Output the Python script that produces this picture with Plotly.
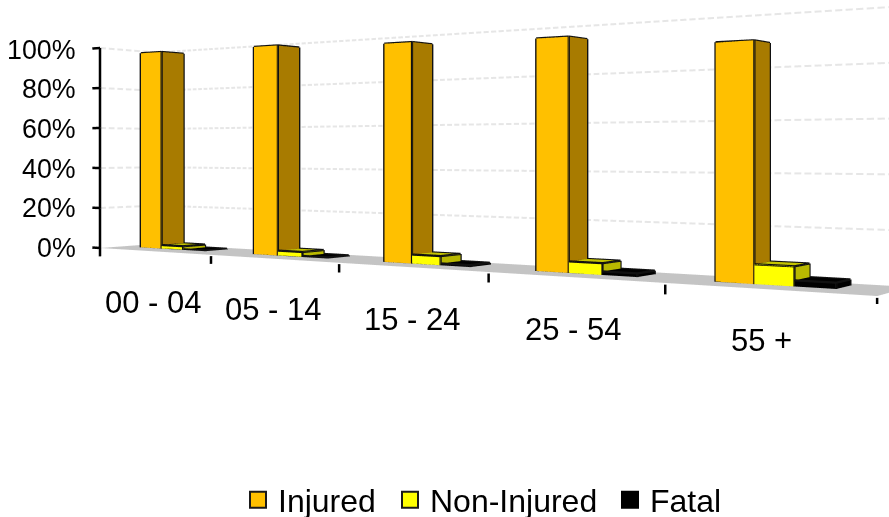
import numpy as np
import plotly.graph_objects as go

categories = ["00 - 04", "05 - 14", "15 - 24", "25 - 54", "55 +"]
series_names = ["Injured", "Non-Injured", "Fatal"]
injured = [97.7, 97.4, 95.3, 93.8, 88.6]
non_injured = [1.8, 2.3, 3.9, 4.6, 7.2]
fatal = [0.3, 0.5, 0.8, 1.4, 2.2]
y_ticks = [0, 20, 40, 60, 80, 100]
y_tick_labels = ["0%", "20%", "40%", "60%", "80%", "100%"]

W, H = 889, 517
SCENE_H = 304

# geometry of the oblique view
SKEW = 6.735          # x shift per unit of depth (bars lean toward the right vanishing point)
FLOOR_D = 0.045
BAR_D = (0.018, 0.036)
BAR_START, BAR_W = 0.17, 0.195

S1 = np.array([0.3449, -0.0667])
LEN1 = np.hypot(*S1)
E1 = S1 / LEN1
N1 = np.array([-E1[1], E1[0]])
S2 = np.array([2.603, 1.0])
DEPTH_N = S2 @ N1
Z_LEN = 0.545 / 100

XR = [-0.5, 5.5]
YR = [-0.01, 0.06]
ZR = [-10, 110]
asp = dict(x=(XR[1] - XR[0]) * LEN1, y=(YR[1] - YR[0]) * DEPTH_N, z=(ZR[1] - ZR[0]) * Z_LEN)


def nrm(v, r, a):
    return a * (v - (r[0] + r[1]) / 2) / (r[1] - r[0])


p0_to_eye = -np.array([-0.9386, 1.0])
eye_x = p0_to_eye @ E1 + nrm(0, XR, asp["x"])
eye_y = p0_to_eye @ N1 + nrm(0, YR, asp["y"])
eye_z = nrm(48, ZR, asp["z"])
fwd = np.array([E1[1], N1[1]])  # view direction in world x/y
center = (eye_x + fwd[0], eye_y + fwd[1], eye_z)


def X(t, d):
    return t + SKEW * d


fig = go.Figure()

# floor
fx = [X(0, 0), X(5, 0), X(5, FLOOR_D), X(0, FLOOR_D)]
fig.add_trace(go.Mesh3d(x=fx, y=[0, 0, FLOOR_D, FLOOR_D], z=[0, 0, 0, 0], i=[0, 0], j=[1, 2], k=[2, 3],
                        color="#C4C4C4", flatshading=True, hoverinfo="skip",
                        lighting=dict(ambient=1, diffuse=0, specular=0, fresnel=0, roughness=1)))

# wall gridlines, dashed by breaking them into short pieces
gx, gy, gz = [], [], []
for z in y_ticks[1:]:
    for f in np.arange(0, 1, 0.15):
        gx += [X(0, FLOOR_D * f), X(0, FLOOR_D * (f + 0.1)), None]
        gy += [FLOOR_D * f, FLOOR_D * (f + 0.1), None]
        gz += [z, z, None]
    for t in np.arange(0, 5.2, 0.05):
        gx += [X(t, FLOOR_D), X(t + 0.034, FLOOR_D), None]
        gy += [FLOOR_D, FLOOR_D, None]
        gz += [z, z, None]
fig.add_trace(go.Scatter3d(x=gx, y=gy, z=gz, mode="lines", hoverinfo="skip", showlegend=False,
                           line=dict(color="#E6E6E6", width=4)))

# bars
series = [injured, non_injured, fatal]
front_c = ["#FFC000", "#FFFF00", "#000000"]
side_c = ["#A87B00", "#B8B800", "#000000"]
top_c = ["#A87B00", "#C4C400", "#000000"]
quads = [(0, 1, 5, 4), (1, 2, 6, 5), (4, 5, 6, 7)]
for k, vals in enumerate(series):
    vx, vy, vz, I, J, K, fc = [], [], [], [], [], [], []
    ex, ey, ez = [], [], []
    for c, v in enumerate(vals):
        t0 = c + BAR_START + k * BAR_W
        t1 = t0 + BAR_W
        d0, d1 = BAR_D
        px = [X(t0, d0), X(t1, d0), X(t1, d1), X(t0, d1)] * 2
        py = [d0, d0, d1, d1] * 2
        pz = [0] * 4 + [v] * 4
        base = len(vx)
        vx += px; vy += py; vz += pz
        for q, col in zip(quads, (front_c[k], side_c[k], top_c[k])):
            I += [base + q[0], base + q[0]]
            J += [base + q[1], base + q[2]]
            K += [base + q[2], base + q[3]]
            fc += [col, col]
        for a, b in [(0, 1), (1, 2), (4, 5), (5, 6), (6, 7), (7, 4), (0, 4), (1, 5), (2, 6)]:
            ex += [px[a], px[b], None]
            ey += [py[a], py[b], None]
            ez += [pz[a], pz[b], None]
    fig.add_trace(go.Mesh3d(x=vx, y=vy, z=vz, i=I, j=J, k=K, facecolor=fc, flatshading=True,
                            hoverinfo="skip", showlegend=False,
                            lighting=dict(ambient=1, diffuse=0, specular=0, fresnel=0, roughness=1)))
    fig.add_trace(go.Scatter3d(x=ex, y=ey, z=ez, mode="lines", hoverinfo="skip", showlegend=False,
                               line=dict(color="#111111", width=4.5)))

# axis line and ticks
ax_x, ax_y, ax_z = [X(0, 0), X(0, 0), None], [0, 0, None], [-4.2, 100, None]
for z in y_ticks:
    ax_x += [X(-0.075, 0), X(0, 0), None]
    ax_y += [0, 0, None]
    ax_z += [z, z, None]
for t in range(1, 6):
    ax_x += [X(t, 0), X(t, 0), None]
    ax_y += [0, 0, None]
    ax_z += [-0.6, -4.2, None]
fig.add_trace(go.Scatter3d(x=ax_x, y=ax_y, z=ax_z, mode="lines", hoverinfo="skip", showlegend=False,
                           line=dict(color="#000000", width=5)))

# legend: one box per entry so that each can sit where the reference has it
FONT = "Liberation Sans, Arial, sans-serif"
legend_ids = ["legend", "legend2", "legend3"]
legend_text_px = [278, 430, 650]
legend_layout = {}
for name, col, ln, lid, tx in zip(series_names, front_c, ["#1a1a1a", "#1a1a1a", "#000000"], legend_ids, legend_text_px):
    fig.add_trace(go.Scatter(x=[None], y=[None], mode="markers", name=name, legend=lid,
                             marker=dict(symbol="square", size=16, color=col, line=dict(color=ln, width=2))))
    legend_layout[lid] = dict(x=(tx - 40) / W, xanchor="left", y=1 - 500 / H, yanchor="middle",
                              font=dict(size=32, color="#000", family=FONT), bgcolor="rgba(0,0,0,0)",
                              itemclick=False, itemdoubleclick=False)

ann = []
y_label_px = [248, 208, 169, 129, 89, 50]
for lab, yp in zip(y_tick_labels, y_label_px):
    ann.append(dict(text=lab, x=78 / W, y=1 - yp / H, xref="paper", yref="paper", xanchor="right",
                    yanchor="middle", showarrow=False, font=dict(size=26.8, color="#000", family=FONT)))
x_label_px = [(153, 302), (273, 309), (412, 319), (573, 329), (761, 340)]
for lab, (xp, yp) in zip(categories, x_label_px):
    ann.append(dict(text=lab, x=xp / W, y=1 - yp / H, xref="paper", yref="paper", xanchor="center",
                    yanchor="middle", showarrow=False, font=dict(size=31, color="#000", family=FONT)))

fig.update_layout(
    width=W, height=H, autosize=False,
    margin=dict(l=0, r=0, t=0, b=0, autoexpand=False),
    paper_bgcolor="white", plot_bgcolor="rgba(0,0,0,0)",
    showlegend=True,
    xaxis=dict(visible=False, domain=[0, 0.01]), yaxis=dict(visible=False, domain=[0, 0.01]),
    annotations=ann,
    scene=dict(
        domain=dict(x=[0, 1], y=[1 - SCENE_H / H, 1]),
        xaxis=dict(visible=False, range=XR), yaxis=dict(visible=False, range=YR),
        zaxis=dict(visible=False, range=ZR),
        aspectmode="manual", aspectratio=asp,
        bgcolor="rgba(0,0,0,0)",
        camera=dict(projection=dict(type="perspective"),
                    eye=dict(x=eye_x, y=eye_y, z=eye_z),
                    center=dict(x=center[0], y=center[1], z=center[2]),
                    up=dict(x=0, y=0, z=1)),
    ),
    **legend_layout,
)
fig.write_html("out.html", config=dict(displayModeBar=False),
               post_script="document.body.style.margin='0';document.documentElement.style.overflow='hidden';")
